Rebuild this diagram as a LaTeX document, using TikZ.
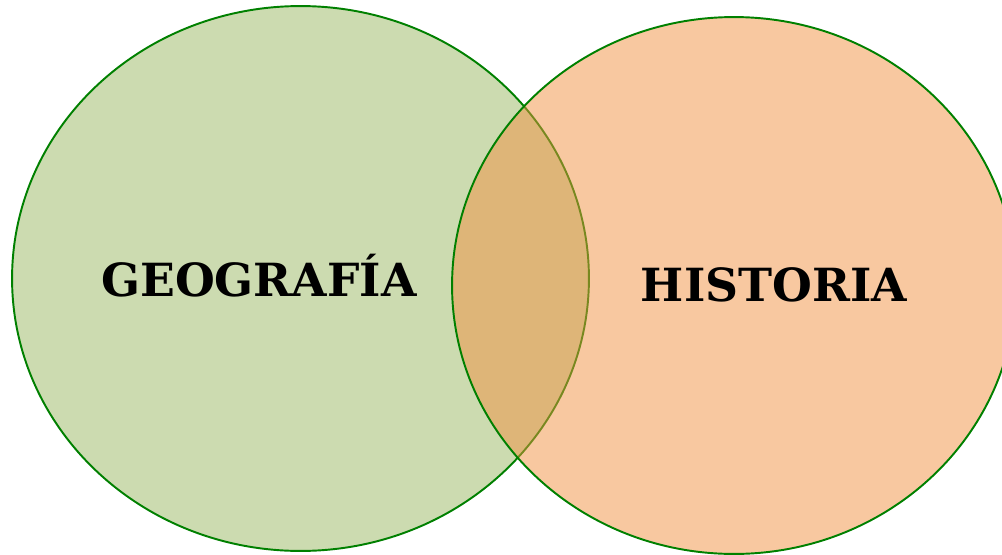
\documentclass[tikz,border=0pt]{standalone}
\usepackage{xcolor}
\usepackage{fontspec}
\setmainfont{DejaVu Serif}
\usepackage{tikz}
\usetikzlibrary{shapes.geometric,positioning}

\definecolor{setline}{RGB}{0,128,0}
\definecolor{geofill}{RGB}{204,219,176}
\definecolor{histfill}{RGB}{241,145,65}

\begin{document}
\begin{tikzpicture}[
    x=0.02cm, y=-0.02cm,
    set/.style={ellipse, draw=setline, line width=1.1pt, inner sep=0pt},
    title/.style={font=\bfseries\fontsize{26}{30}\selectfont, text=black}
]
    \useasboundingbox (0,0) rectangle (1002,555);
    \clip (0,0) rectangle (1002,555);

    \node [set, fill=geofill, minimum width=11.54cm, minimum height=10.9cm] (geo) at (300.5,278.5) {};
    \node [set, fill=histfill, fill opacity=0.5, minimum width=11.28cm, minimum height=10.74cm] (hist) at (734,285.5) {};

    \node [title] (geotext) at (259,276) {GEOGRAFÍA};
    \node [title] (histtext) at (774,285) {HISTORIA};

\end{tikzpicture}
\end{document}
